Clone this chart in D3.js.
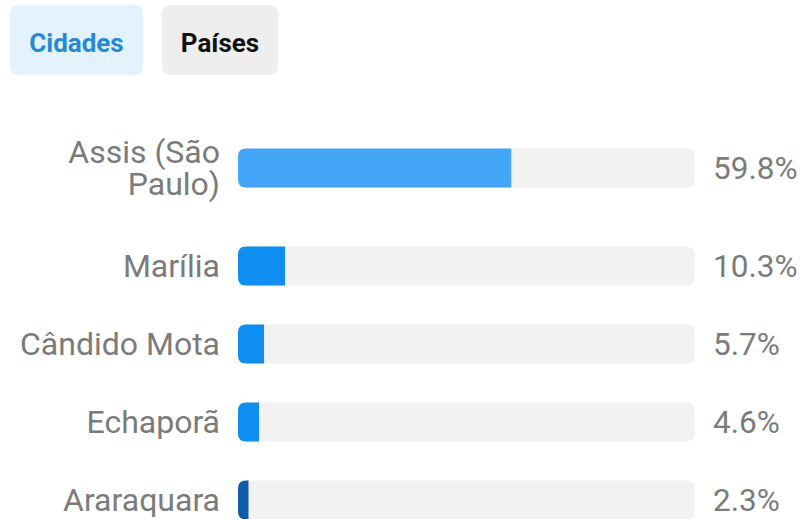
<!DOCTYPE html>
<html>
<head>
<meta charset="utf-8">
<script src="https://cdn.jsdelivr.net/npm/d3@7"></script>
<style>
  html, body { margin: 0; padding: 0; background: #fff; }
  svg { display: block; font-family: Roboto, sans-serif; }
</style>
</head>
<body>
<div id="chart"></div>
<script>
// chart data
const tabs = ['Cidades', 'Países'];
const activeTab = 'Cidades';
const cities = ['Assis (São Paulo)', 'Marília', 'Cândido Mota', 'Echaporã', 'Araraquara'];
const shares = [59.8, 10.3, 5.7, 4.6, 2.3];
const valueLabels = ['59.8%', '10.3%', '5.7%', '4.6%', '2.3%'];

const width = 805;
const height = 519;

const svg = d3.select('#chart')
  .append('svg')
  .attr('width', width)
  .attr('height', height);

// tab buttons on top
const tabX = d3.scaleOrdinal().domain(tabs).range([10, 162]);
const tabW = d3.scaleOrdinal().domain(tabs).range([133, 116]);

const tab = svg.append('g')
  .selectAll('g')
  .data(tabs)
  .enter().append('g')
  .attr('transform', d => 'translate(' + tabX(d) + ',5)');

tab.append('rect')
  .attr('width', d => tabW(d))
  .attr('height', 70)
  .attr('rx', 8)
  .attr('fill', d => d === activeTab ? '#e3f2fd' : '#eeeeee');

tab.append('text')
  .attr('x', d => tabW(d) / 2)
  .attr('y', 38)
  .attr('dy', '0.35em')
  .attr('text-anchor', 'middle')
  .attr('font-size', 26)
  .attr('font-weight', 'bold')
  .attr('fill', d => d === activeTab ? '#2589d6' : '#111')
  .text(d => d);

// horizontal scale of the bars
const x = d3.scaleLinear().domain([0, 100]).range([238, 695]);

const labelRight = 220;
const fontSize = 32;
const valueSize = 31.5;
const lineHeight = 32;
const wrapWidth = 215;
const rowH = 78;
const extraLine = 40;
const barH = 39;

// wrap labels first so row heights can be computed
const g = svg.append('g');
const labels = g.selectAll('text.label')
  .data(cities)
  .enter().append('text')
  .attr('class', 'label')
  .attr('text-anchor', 'end')
  .attr('font-size', fontSize)
  .attr('fill', '#7b7b7b');

const labelLines = [];
labels.each(function (d, i) {
  const text = d3.select(this);
  const words = d.split(' ');
  const lines = [];
  let current = [];
  const probe = text.append('tspan');
  words.forEach(w => {
    current.push(w);
    probe.text(current.join(' '));
    if (probe.node().getComputedTextLength() > wrapWidth && current.length > 1) {
      current.pop();
      lines.push(current.join(' '));
      current = [w];
    }
  });
  lines.push(current.join(' '));
  probe.remove();
  labelLines[i] = lines;
});

// row centers
let rowTop = 109;
const centers = [];
cities.forEach((c, i) => {
  const h = rowH + (labelLines[i].length - 1) * extraLine;
  centers[i] = rowTop + h / 2;
  rowTop += h;
});

labels.each(function (d, i) {
  const lines = labelLines[i];
  const first = centers[i] - (lines.length - 1) * lineHeight / 2;
  d3.select(this).selectAll('tspan')
    .data(lines)
    .enter().append('tspan')
    .attr('x', labelRight)
    .attr('y', (l, k) => first + k * lineHeight)
    .attr('dy', '0.35em')
    .text(l => l);
});

// background tracks
g.selectAll('rect.track')
  .data(cities)
  .enter().append('rect')
  .attr('class', 'track')
  .attr('x', x(0))
  .attr('y', (d, i) => centers[i] - barH / 2)
  .attr('width', x(100) - x(0))
  .attr('height', barH)
  .attr('rx', 8)
  .attr('fill', '#f2f2f2');

// bars, rounded on the left side only
const barColor = (d, i) => i === 0 ? '#42a5f5' : (i === cities.length - 1 ? '#0f5ca8' : '#0d8ef0');
const r = 8;
g.selectAll('path.bar')
  .data(shares)
  .enter().append('path')
  .attr('class', 'bar')
  .attr('fill', barColor)
  .attr('d', (d, i) => {
    const x0 = x(0);
    const x1 = x(d);
    const y0 = centers[i] - barH / 2;
    const y1 = y0 + barH;
    const rr = Math.min(r, x1 - x0);
    return 'M' + x1 + ',' + y0 +
      'L' + (x0 + rr) + ',' + y0 +
      'Q' + x0 + ',' + y0 + ' ' + x0 + ',' + (y0 + rr) +
      'L' + x0 + ',' + (y1 - rr) +
      'Q' + x0 + ',' + y1 + ' ' + (x0 + rr) + ',' + y1 +
      'L' + x1 + ',' + y1 + 'Z';
  });

// value labels
g.selectAll('text.value')
  .data(valueLabels)
  .enter().append('text')
  .attr('class', 'value')
  .attr('x', 713)
  .attr('y', (d, i) => centers[i])
  .attr('dy', '0.35em')
  .attr('font-size', valueSize)
  .attr('fill', '#7b7b7b')
  .text(d => d);
</script>
</body>
</html>
